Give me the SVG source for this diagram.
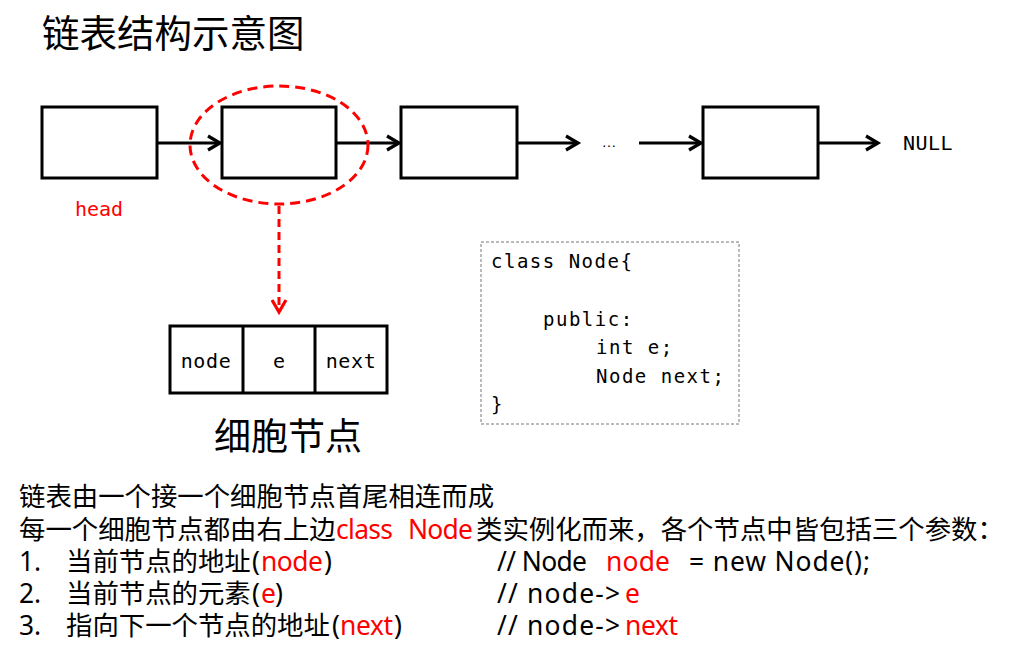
<svg xmlns="http://www.w3.org/2000/svg" width="1030" height="660" viewBox="0 0 1030 660">
<style>
.box{fill:#fff;stroke:#000;stroke-width:3}
.ln{stroke:#000;stroke-width:3;fill:none}
.mono{font-family:"DejaVu Sans Mono","Liberation Mono",monospace;font-size:20px;fill:#000}
.code{font-family:"DejaVu Sans Mono","Liberation Mono",monospace;font-size:19px;letter-spacing:1.5px;fill:#000}
.cjk{font-family:"Noto Sans","Noto Sans CJK SC",sans-serif}
.d{font-family:"Noto Sans","Noto Sans CJK SC",sans-serif;font-size:26.4px;fill:#000}
.dr{font-family:"Noto Sans","Noto Sans CJK SC",sans-serif;font-size:26.4px;fill:#ff0000}
</style>
<defs>
<marker id="ah" markerUnits="userSpaceOnUse" markerWidth="20" markerHeight="20" viewBox="-16 -10 20 20" refX="0" refY="0" orient="auto">
<path d="M-12,-7 L0,0 L-12,7" fill="none" stroke="#000" stroke-width="3.2"/>
</marker>
<marker id="ahr" markerUnits="userSpaceOnUse" markerWidth="20" markerHeight="20" viewBox="-16 -10 20 20" refX="0" refY="0" orient="auto">
<path d="M-12,-7 L0,0 L-12,7" fill="none" stroke="#ff0000" stroke-width="3.2"/>
</marker>
</defs>
<rect width="1030" height="660" fill="#fff"/>
<text x="42" y="47" class="cjk" font-size="37.5">链表结构示意图</text>

<g id="node1"><rect class="box" x="42" y="107" width="115" height="71"/></g>
<g id="node2"><rect class="box" x="222" y="107" width="114" height="71"/></g>
<g id="node3"><rect class="box" x="401" y="107" width="116" height="71"/></g>
<g id="node4"><rect class="box" x="703" y="107" width="115" height="71"/></g>
<g id="dots"><text x="609" y="147" text-anchor="middle" font-family="Liberation Sans,sans-serif" font-size="15">…</text></g>
<g id="null"><text x="903" y="150" class="mono" font-size="18" letter-spacing="0.5">NULL</text></g>
<g id="head"><text x="75" y="216" class="mono" style="fill:#ff0000">head</text></g>

<g id="connectors">
<line class="ln" x1="157" y1="143" x2="220" y2="143" marker-end="url(#ah)"/>
<line class="ln" x1="336" y1="143" x2="399" y2="143" marker-end="url(#ah)"/>
<line class="ln" x1="517" y1="143" x2="578" y2="143" marker-end="url(#ah)"/>
<line class="ln" x1="639" y1="143" x2="701" y2="143" marker-end="url(#ah)"/>
<line class="ln" x1="818" y1="143" x2="878" y2="143" marker-end="url(#ah)"/>
<line x1="279" y1="206" x2="279" y2="312" stroke="#ff0000" stroke-width="3" stroke-dasharray="8,5" marker-end="url(#ahr)"/>
</g>

<g id="highlight"><ellipse cx="279" cy="145" rx="89" ry="59" fill="none" stroke="#ff0000" stroke-width="3" stroke-dasharray="10,6"/></g>

<g id="cell">
<rect class="box" x="170" y="326" width="217" height="67"/>
<line class="ln" x1="243" y1="326" x2="243" y2="393"/>
<line class="ln" x1="315" y1="326" x2="315" y2="393"/>
<text x="206" y="368" class="mono" text-anchor="middle" letter-spacing="0.6">node</text>
<text x="279" y="368" class="mono" text-anchor="middle">e</text>
<text x="351" y="368" class="mono" text-anchor="middle" letter-spacing="0.6">next</text>
</g>
<text x="214" y="450" class="cjk" font-size="37">细胞节点</text>

<g id="code">
<rect x="481" y="242" width="258" height="182" fill="none" stroke="#777" stroke-width="1" stroke-dasharray="3,2"/>
<text x="491" y="268" class="code">class Node{</text>
<text x="543" y="326" class="code">public:</text>
<text x="596" y="354" class="code">int e;</text>
<text x="596" y="383" class="code">Node next;</text>
<text x="491" y="411" class="code">}</text>
</g>

<g id="desc">
<text x="19" y="506" class="d">链表由一个接一个细胞节点首尾相连而成</text>
<text x="19" y="539" class="d">每一个细胞节点都由右上边</text>
<text x="336" y="539" class="dr" textLength="57">class</text>
<text x="408" y="539" class="dr" textLength="65">Node</text>
<text x="476" y="539" class="d">类实例化而来，各个节点中皆包括三个参数：</text>

<text x="19" y="571" class="d">1.</text>
<text x="66" y="571" class="d">当前节点的地址</text>
<text x="252" y="571" class="d">(</text>
<text x="261" y="571" class="dr" textLength="62">node</text>
<text x="324" y="571" class="d">)</text>
<text x="497" y="571" class="d" textLength="90">// Node</text>
<text x="606" y="571" class="dr" textLength="64">node</text>
<text x="689" y="571" class="d" textLength="181">= new Node();</text>

<text x="19" y="603" class="d">2.</text>
<text x="66" y="603" class="d">当前节点的元素</text>
<text x="252" y="603" class="d">(</text>
<text x="261" y="603" class="dr">e</text>
<text x="275" y="603" class="d">)</text>
<text x="497" y="603" class="d" textLength="123">// node-&gt;</text>
<text x="625" y="603" class="dr">e</text>

<text x="19" y="635" class="d">3.</text>
<text x="66" y="635" class="d">指向下一个节点的地址</text>
<text x="332" y="635" class="d">(</text>
<text x="340" y="635" class="dr" textLength="53">next</text>
<text x="394" y="635" class="d">)</text>
<text x="497" y="635" class="d" textLength="123">// node-&gt;</text>
<text x="625" y="635" class="dr" textLength="53">next</text>
</g>
</svg>
